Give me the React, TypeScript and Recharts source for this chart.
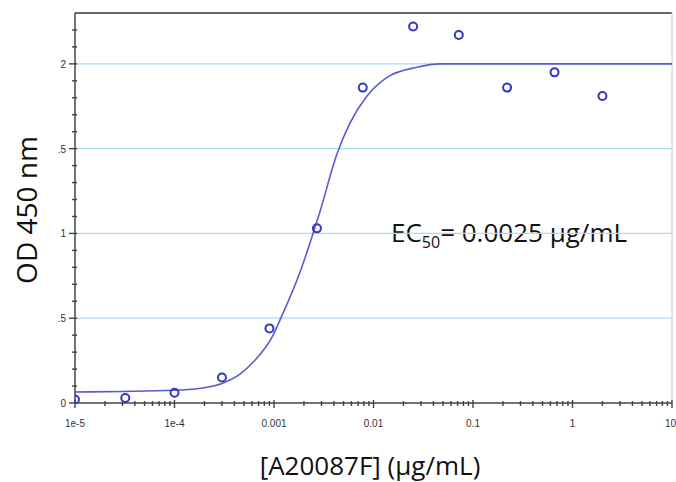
import { ComposedChart, Line, Scatter, XAxis, YAxis, ReferenceLine, Customized } from 'recharts';

// measured points (concentration in µg/mL, OD 450 nm)
const pointConc = [1e-5, 3.2e-5, 1e-4, 3e-4, 9e-4, 2.7e-3, 7.8e-3, 0.025, 0.072, 0.22, 0.66, 2.0];
const pointOD = [0.02, 0.03, 0.06, 0.15, 0.44, 1.03, 1.86, 2.22, 2.17, 1.86, 1.95, 1.81];

// fitted curve
const curveConc = [
  1e-5, 3e-5, 1e-4, 2e-4, 3e-4, 4.55e-4, 6.15e-4, 9.8e-4, 1.15e-3, 1.82e-3, 2.41e-3, 2.9e-3,
  4.3e-3, 5.8e-3, 8.6e-3, 0.0137, 0.0273, 0.0466, 0.2, 1, 10,
];
const curveOD = [
  0.065, 0.068, 0.075, 0.09, 0.115, 0.17, 0.24, 0.4, 0.49, 0.77, 0.98, 1.13,
  1.47, 1.65, 1.81, 1.92, 1.98, 2.0, 2.0, 2.0, 2.0,
];

const xMajor = [1e-5, 1e-4, 0.001, 0.01, 0.1, 1, 10];
const xMajorLabels = ['1e-5', '1e-4', '0.001', '0.01', '0.1', '1', '10'];
const xMinor = xMajor.slice(0, -1).flatMap((d) => [2, 3, 4, 5, 6, 7, 8, 9].map((m) => d * m));

const yMajor = [0, 0.5, 1, 1.5, 2];
const yMajorLabels = ['0', '.5', '1', '.5', '2'];
const yMinor = [0.1, 0.2, 0.3, 0.4, 0.6, 0.7, 0.8, 0.9, 1.1, 1.2, 1.3, 1.4, 1.6, 1.7, 1.8, 1.9, 2.1, 2.2];
const gridValues = [0.5, 1, 1.5, 2];

const points = pointConc.map((x, i) => ({ x, y: pointOD[i] }));
const curve = curveConc.map((x, i) => ({ x, y: curveOD[i] }));

const axisColor = '#444';
const tickFont = "'Liberation Sans', Arial, sans-serif";
const titleFont = "'Open Sans', 'Noto Sans', sans-serif";

const majorIndex = (list: number[], v: number) =>
  list.findIndex((m) => Math.abs(m - v) / Math.max(m, 1e-9) < 1e-6 || Math.abs(m - v) < 1e-9);

function XTick({ x, y, payload }: any) {
  const i = majorIndex(xMajor, payload.value);
  if (i < 0) return <line x1={x} x2={x} y1={y - 2} y2={y + 3} stroke={axisColor} strokeWidth={1.4} />;
  const last = i === xMajor.length - 1;
  return (
    <g>
      <line x1={x} x2={x} y1={y - 3} y2={y + 5} stroke={axisColor} strokeWidth={1.4} />
      <text
        x={last ? 676 : x}
        y={y + 24}
        textAnchor={last ? 'end' : 'middle'}
        fontFamily={tickFont}
        fontSize={10}
        fill="#333"
      >
        {xMajorLabels[i]}
      </text>
    </g>
  );
}

function YTick({ x, y, payload }: any) {
  const i = majorIndex(yMajor, payload.value);
  if (i < 0) return <line x1={x - 3} x2={x + 2} y1={y} y2={y} stroke={axisColor} strokeWidth={1.4} />;
  return (
    <g>
      <line x1={x - 6} x2={x + 2} y1={y} y2={y} stroke={axisColor} strokeWidth={1.4} />
      <text x={x - 9} y={y + 4} textAnchor="end" fontFamily={tickFont} fontSize={10} fill="#333">
        {yMajorLabels[i]}
      </text>
    </g>
  );
}

function Titles() {
  return (
    <g>
      <text
        x={37}
        y={210}
        transform="rotate(-90 37 210)"
        textAnchor="middle"
        fontFamily={titleFont}
        fontSize={28}
        fill="#111"
      >
        OD 450 nm
      </text>
      <text x={370} y={475} textAnchor="middle" fontFamily={titleFont} fontSize={26} fill="#111">
        [A20087F] (µg/mL)
      </text>
      <text x={391} y={242} fontFamily={titleFont} fontSize={26} fill="#111">
        EC
        <tspan fontSize={16} dy={6}>50</tspan>
        <tspan dy={-6}>= 0.0025 µg/mL</tspan>
      </text>
    </g>
  );
}

const Ring = (props: any) => (
  <circle cx={props.cx} cy={props.cy} r={4} fill="none" stroke="#3636c2" strokeWidth={2} />
);

export default function App() {
  return (
    <div style={{ position: 'absolute', left: 0, top: 0, width: 676, height: 482, background: '#fff' }}>
      <ComposedChart width={676} height={482} margin={{ top: 13, right: 4, bottom: 49, left: 0 }}>
        <XAxis
          dataKey="x"
          type="number"
          scale="log"
          domain={[1e-5, 10]}
          allowDataOverflow
          ticks={[...xMajor, ...xMinor]}
          interval={0}
          height={30}
          tickSize={0}
          tickMargin={0}
          tickLine={false}
          tick={<XTick />}
          axisLine={{ stroke: axisColor, strokeWidth: 1.5 }}
        />
        <YAxis
          type="number"
          domain={[0, 2.3]}
          allowDataOverflow
          ticks={[...yMajor, ...yMinor]}
          interval={0}
          width={75}
          tickSize={0}
          tickMargin={0}
          tickLine={false}
          tick={<YTick />}
          axisLine={{ stroke: axisColor, strokeWidth: 1.5 }}
        />
        {gridValues.map((v) => (
          <ReferenceLine key={v} y={v} stroke="#a9dcee" strokeWidth={1.2} />
        ))}
        <ReferenceLine y={2.3} stroke="#333" strokeWidth={1.5} />
        <ReferenceLine x={10} stroke="#c8c8c8" strokeWidth={1} />
        <Line
          data={curve}
          dataKey="y"
          type="monotone"
          stroke="#5a5ad2"
          strokeWidth={1.6}
          dot={false}
          activeDot={false}
          isAnimationActive={false}
        />
        <Scatter data={points} dataKey="y" shape={<Ring />} isAnimationActive={false} />
        <Customized component={<Titles />} />
      </ComposedChart>
    </div>
  );
}
